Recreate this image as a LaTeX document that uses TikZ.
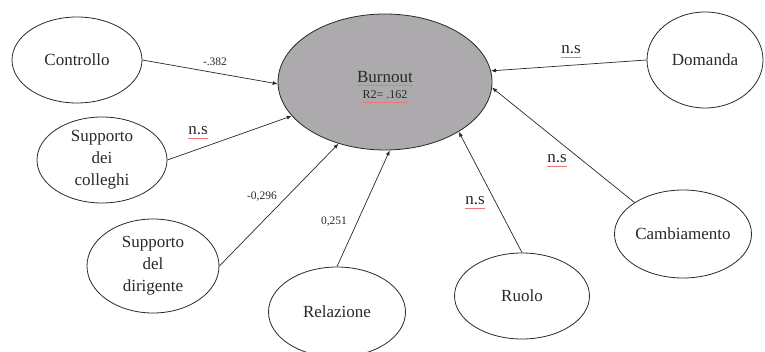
\documentclass[tikz,border=0pt]{standalone}
\usepackage{fontspec}
\setmainfont{Liberation Serif}
\usetikzlibrary{shapes.geometric,arrows.meta}
\definecolor{burngray}{RGB}{172,170,172}
\definecolor{inkgray}{RGB}{40,40,40}
\definecolor{spell}{RGB}{235,120,120}
\begin{document}
\begin{tikzpicture}[x=1pt,y=-1pt,
  var/.style={ellipse,draw=inkgray,line width=0.8pt,inner sep=0pt,text=inkgray,
              font=\fontsize{17}{22}\selectfont,align=center},
  burnbox/.style={ellipse,draw=inkgray,line width=0.8pt,fill=burngray,inner sep=0pt,
              minimum width=214pt,minimum height=136pt},
  pathline/.style={-{Latex[length=5pt,width=4pt]},line width=0.7pt,draw=inkgray},
  coef/.style={font=\fontsize{11.5}{14}\selectfont,inner sep=0pt,text=inkgray},
  nslabel/.style={font=\fontsize{17}{20}\selectfont,inner sep=0pt,text=inkgray},
  squiggle/.style={draw=spell,line width=0.5pt}]
\useasboundingbox (0,0) rectangle (765,352);

% central construct
\node[burnbox] (burn) at (385,82) {};
\node[inner sep=0pt,text=inkgray,font=\fontsize{17}{20}\selectfont] (bt) at (385,77) {Burnout};
\node[inner sep=0pt,text=inkgray,font=\fontsize{12}{14}\selectfont] (r2) at (385,95) {R2= .162};

% predictors
\node[var,minimum width=130pt,minimum height=86pt] (ctrl) at (77,60) {Controllo};
\node[var,minimum width=130pt,minimum height=86pt] (coll) at (102,160) {Supporto\\dei\\colleghi};
\node[var,minimum width=132pt,minimum height=94pt] (dir) at (153,266) {Supporto\\del\\dirigente};
\node[var,minimum width=137pt,minimum height=90pt] (rel) at (337,312) {Relazione};
\node[var,minimum width=135pt,minimum height=86pt] (ruolo) at (522,296) {Ruolo};
\node[var,minimum width=137pt,minimum height=88pt] (camb) at (683,234) {Cambiamento};
\node[var,minimum width=116pt,minimum height=96pt] (dom) at (705,60) {Domanda};

% paths
\draw[pathline] (ctrl.east) -- (burn.181);
\draw[pathline] (coll.east) -- (burn.200);
\draw[pathline] (dir.east) -- (burn.233);
\draw[pathline] (rel.north) -- (burn.274);
\draw[pathline] (ruolo.north) -- (burn.326);
\draw[pathline] (camb.147) -- (burn.357);
\draw[pathline] (dom.west) -- (burn.6);

% coefficients
\node[coef] (c1) at (215,62) {-.382};
\node[coef] (c2) at (262,197) {-0,296};
\node[coef] (c3) at (334,222) {0,251};
\node[nslabel] (n1) at (198,131) {n.s};
\node[nslabel] (n2) at (475,201) {n.s};
\node[nslabel] (n3) at (557,159) {n.s};
\node[nslabel] (n4) at (571,50) {n.s};

% spell-check underlines
\foreach \n in {n1,n2,n3,n4,bt,r2}{
  \draw[squiggle] ([yshift=-2.5pt]\n.south west) -- ([yshift=-2.5pt]\n.south east);
}
\end{tikzpicture}
\end{document}
